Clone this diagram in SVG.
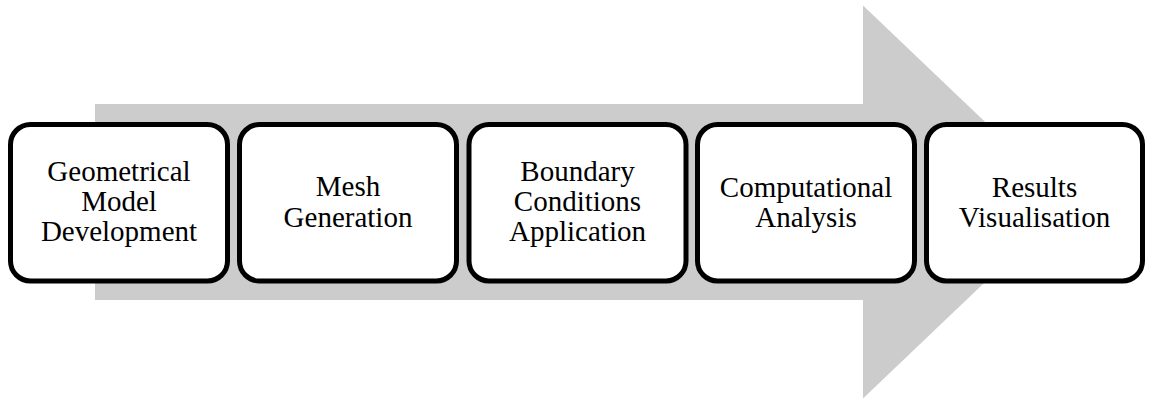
<svg xmlns="http://www.w3.org/2000/svg" width="1149" height="401" viewBox="0 0 1149 401">
  <style>
    .step { fill: #ffffff; stroke: #000000; stroke-width: 5; }
    .label { font-size: 29px; fill: #000000; text-anchor: middle; }
  </style>
  <rect width="1149" height="401" fill="#ffffff"/>

  <!-- background process arrow -->
  <g id="connectors">
    <polygon points="95,104 863,104 863,5.5 1069,202 863,398.5 863,300 95,300" fill="#cccccc"/>
  </g>

  <g font-family="Liberation Serif, Tinos, DejaVu Serif, Times New Roman, serif">
    <g id="step1">
      <rect class="step" x="10.5" y="124.5" width="217" height="156.5" rx="20" ry="20"/>
      <text class="label" x="119" y="181">Geometrical</text>
      <text class="label" x="119" y="211">Model</text>
      <text class="label" x="119" y="241">Development</text>
    </g>

    <g id="step2">
      <rect class="step" x="239.5" y="124.5" width="217" height="156.5" rx="20" ry="20"/>
      <text class="label" x="348" y="196">Mesh</text>
      <text class="label" x="348" y="226.5">Generation</text>
    </g>

    <g id="step3">
      <rect class="step" x="469" y="124.5" width="217" height="156.5" rx="20" ry="20"/>
      <text class="label" x="577.5" y="181">Boundary</text>
      <text class="label" x="577.5" y="211">Conditions</text>
      <text class="label" x="577.5" y="241">Application</text>
    </g>

    <g id="step4">
      <rect class="step" x="697.5" y="124.5" width="217" height="156.5" rx="20" ry="20"/>
      <text class="label" x="806" y="196.5">Computational</text>
      <text class="label" x="806" y="226.5">Analysis</text>
    </g>

    <g id="step5">
      <rect class="step" x="926.5" y="124.5" width="216" height="156.5" rx="20" ry="20"/>
      <text class="label" x="1034.5" y="196.5">Results</text>
      <text class="label" x="1034.5" y="226.5">Visualisation</text>
    </g>
  </g>
</svg>
